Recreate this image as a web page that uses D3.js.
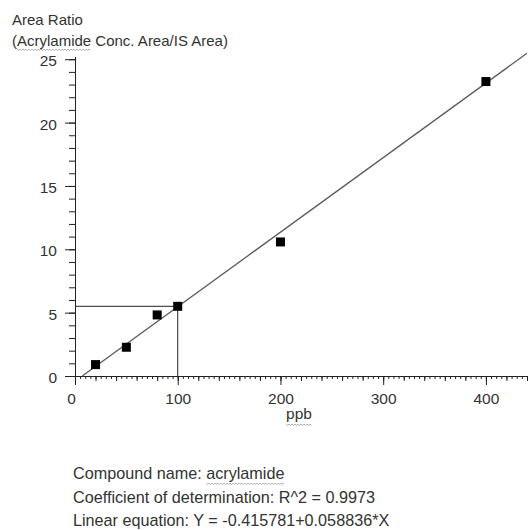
<!DOCTYPE html>
<html>
<head>
<meta charset="utf-8">
<script src="https://cdn.jsdelivr.net/npm/d3@7"></script>
<style>
  body { margin: 0; background: #fff; }
  svg { display: block; }
  text { font-family: "Liberation Sans", Arial, sans-serif; fill: #333; }
</style>
</head>
<body>
<svg id="chart" width="531" height="530"></svg>
<script>
// calibration points
const concentrations = [20, 50, 80, 100, 200, 400];   // ppb
const areaRatios = [0.9, 2.27, 4.82, 5.5, 10.58, 23.24];

// regression result shown under the chart
const intercept = -0.415781;
const slope = 0.058836;
const rSquared = 0.9973;

const xMajorTicks = [0, 100, 200, 300, 400];
const yMajorTicks = [0, 5, 10, 15, 20, 25];
const infoLines = [
  "Compound name: acrylamide",
  "Coefficient of determination: R^2 = " + rSquared,
  "Linear equation: Y = " + intercept + "+" + slope + "*X"
];

const svg = d3.select("#chart");
const fs = "15.5px";

const x = d3.scaleLinear().domain([0, 440]).range([75, 527]);
const y = d3.scaleLinear().domain([0, 25.2]).range([376, 56.7]);

// y axis: minor ticks every 1, major every 5
svg.append("g")
  .attr("transform", `translate(${x(0)},0)`)
  .call(d3.axisLeft(y).tickValues(d3.range(0, 26, 1)).tickSize(6).tickSizeOuter(0).tickFormat(""))
  .call(g => g.selectAll("line,path").attr("stroke", "#222"));

svg.append("g")
  .attr("transform", `translate(${x(0)},0)`)
  .call(d3.axisLeft(y).tickValues(yMajorTicks).tickSize(10).tickSizeOuter(0).tickPadding(8))
  .call(g => g.select(".domain").attr("stroke", "#222"))
  .call(g => g.selectAll("line").attr("stroke", "#222"))
  .call(g => g.selectAll("text")
    .attr("font-family", null).attr("fill", "#333")
    .style("font-size", fs).attr("dy", "0.42em"));

// x axis: minor every 5, medium every 20, major every 100
svg.append("g")
  .attr("transform", `translate(0,${y(0)})`)
  .call(d3.axisBottom(x).tickValues(d3.range(0, 441, 5)).tickSize(3).tickSizeOuter(0).tickFormat(""))
  .call(g => g.selectAll("line,path").attr("stroke", "#222"));

svg.append("g")
  .attr("transform", `translate(0,${y(0)})`)
  .call(d3.axisBottom(x).tickValues(d3.range(0, 441, 20)).tickSize(5).tickSizeOuter(0).tickFormat(""))
  .call(g => g.selectAll("line,path").attr("stroke", "#222"));

svg.append("g")
  .attr("transform", `translate(0,${y(0)})`)
  .call(d3.axisBottom(x).tickValues(xMajorTicks).tickSize(9).tickSizeOuter(0).tickPadding(8))
  .call(g => g.selectAll("line,path").attr("stroke", "#222"))
  .call(g => g.selectAll("text")
    .attr("font-family", null).attr("fill", "#333")
    .style("font-size", fs).attr("dy", "0.71em")
    .attr("dx", d => d === 0 ? -4 : 0));

// regression line, starting where it crosses y = 0
const xStart = -intercept / slope;
svg.append("path")
  .datum([xStart, 440])
  .attr("fill", "none")
  .attr("stroke", "#5a5a5a")
  .attr("stroke-width", 1.3)
  .attr("d", d3.line().x(d => x(d)).y(d => y(intercept + slope * d)));

// guide lines to the 100 ppb point
const gi = concentrations.indexOf(100);
svg.append("path")
  .attr("fill", "none")
  .attr("stroke", "#222")
  .attr("d", d3.line()([
    [x(0), y(areaRatios[gi])],
    [x(concentrations[gi]), y(areaRatios[gi])],
    [x(concentrations[gi]), y(0)]
  ]));

// points
const sq = 9;
svg.append("g")
  .selectAll("rect")
  .data(concentrations.map((c, i) => [c, areaRatios[i]]))
  .join("rect")
  .attr("x", d => x(d[0]) - sq / 2)
  .attr("y", d => y(d[1]) - sq / 2)
  .attr("width", sq)
  .attr("height", sq)
  .attr("fill", "#000");

// titles
svg.append("text").attr("x", 12).attr("y", 25).style("font-size", "15px").text("Area Ratio");
const yTitle = svg.append("text").attr("x", 12).attr("y", 46).style("font-size", "15px")
  .text("(Acrylamide Conc. Area/IS Area)");

const xTitle = svg.append("text").attr("x", 299).attr("y", 419)
  .attr("text-anchor", "middle").style("font-size", fs).text("ppb");

const info = svg.append("g");
const infoTexts = info.selectAll("text")
  .data(infoLines)
  .join("text")
  .attr("x", 73)
  .attr("y", (d, i) => 479 + i * 23.5)
  .style("font-size", "16.2px")
  .text(d => d);

// spell-check style wavy underline
function squiggle(textNode, start, len, baseY) {
  const x0 = textNode.getStartPositionOfChar(start).x;
  const end = textNode.getEndPositionOfChar(start + len - 1).x;
  const pts = [];
  for (let px = x0, k = 0; px <= end; px += 1.5, k++) pts.push([px, baseY + (k % 2 ? 1.5 : 0)]);
  svg.append("path")
    .attr("fill", "none")
    .attr("stroke", "#999")
    .attr("stroke-width", 0.8)
    .attr("d", d3.line()(pts));
}
squiggle(yTitle.node(), 1, 10, 49);
squiggle(xTitle.node(), 0, 3, 424);
squiggle(infoTexts.nodes()[0], 15, 10, 483);
</script>
</body>
</html>
